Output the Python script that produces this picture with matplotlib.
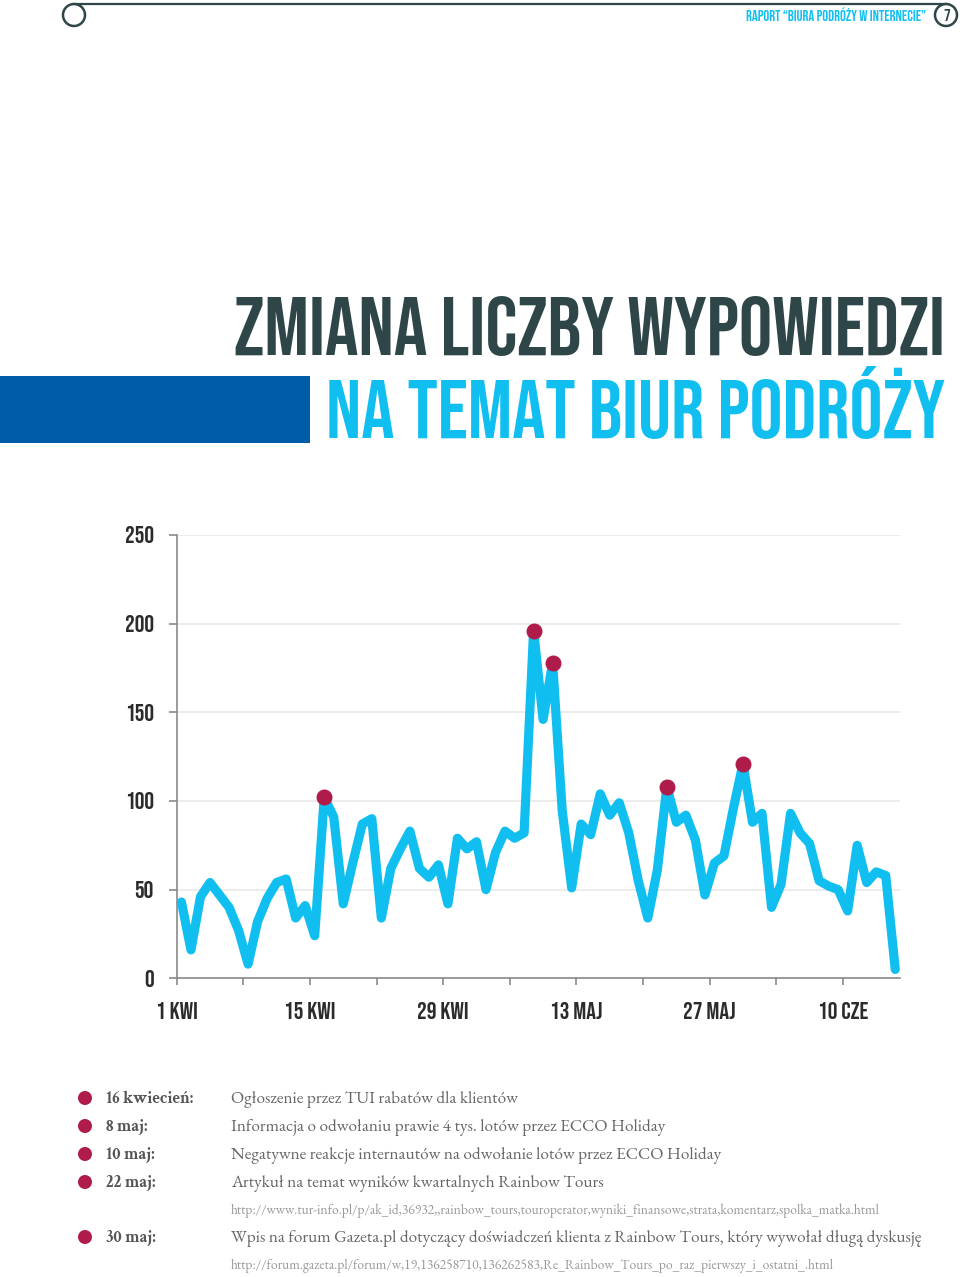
import numpy as np
import matplotlib
matplotlib.use('Agg')
import matplotlib.pyplot as plt
from matplotlib.patches import Circle, Rectangle

# daily number of posts, 1 Apr - 15 Jun
values = [43, 16, 46, 54, 47, 40, 27, 8, 32, 45,
          54, 56, 34, 41, 24, 102, 91, 42, 65, 87,
          90, 34, 62, 73, 83, 62, 57, 64, 42, 79,
          73, 77, 50, 71, 83, 79, 82, 196, 146, 178,
          95, 51, 87, 81, 104, 92, 99, 82, 55, 34,
          61, 108, 88, 92, 78, 47, 65, 69, 96, 121,
          88, 93, 40, 53, 93, 82, 76, 55, 52, 50,
          38, 75, 54, 60, 58, 5]
event_days = [15, 37, 39, 51, 59]   # days after 1 Apr with events
tick_days = [0, 14, 28, 42, 56, 70]
tick_labels = ['1 KWI', '15 KWI', '29 KWI', '13 MAJ', '27 MAJ', '10 CZE']
y_ticks = [0, 50, 100, 150, 200, 250]

event_dates = ['16 kwiecień:', '8 maj:', '10 maj:', '22 maj:', '30 maj:']
event_texts = ['Ogłoszenie przez TUI rabatów dla klientów',
               'Informacja o odwołaniu prawie 4 tys. lotów przez ECCO Holiday',
               'Negatywne reakcje internautów na odwołanie lotów przez ECCO Holiday',
               'Artykuł na temat wyników kwartalnych Rainbow Tours',
               'Wpis na forum Gazeta.pl dotyczący doświadczeń klienta z Rainbow Tours, który wywołał długą dyskusję']
event_urls = ['', '', '',
              'http://www.tur-info.pl/p/ak_id,36932,,rainbow_tours,touroperator,wyniki_finansowe,strata,komentarz,spolka_matka.html',
              'http://forum.gazeta.pl/forum/w,19,136258710,136262583,Re_Rainbow_Tours_po_raz_pierwszy_i_ostatni_.html']

cyan = '#10bff0'
dark = '#2f4649'
red = '#b01c4a'
cond = ['Bebas Neue', 'DejaVu Sans']
serif = ['EB Garamond', 'Liberation Serif']
serif_bold = ['Crimson Text', 'Liberation Serif']

W, H = 960, 1277
fig = plt.figure(figsize=(W / 100, H / 100), dpi=100)

# page decorations in pixel coordinates
deco = fig.add_axes([0, 0, 1, 1])
deco.set_xlim(0, W)
deco.set_ylim(H, 0)
deco.axis('off')
deco.plot([74, 946], [4, 4], color=dark, lw=1.6)
deco.add_patch(Circle((74, 15), 11, fc='white', ec=dark, lw=1.8))
deco.add_patch(Circle((946, 15), 11, fc='white', ec=dark, lw=1.8))
deco.text(946.5, 21, '7', ha='center', va='baseline', fontsize=12,
          color=dark, family=cond)
deco.text(926, 21, 'RAPORT “BIURA PODRÓŻY W INTERNECIE”', ha='right', va='baseline',
          fontsize=10.5, color=cyan, family=cond)

deco.text(945, 355, 'ZMIANA LICZBY WYPOWIEDZI', ha='right', va='baseline',
          fontsize=60, color=dark, family=cond)
deco.add_patch(Rectangle((0, 376), 310, 67, fc='#005ca8', ec='none'))
deco.text(945, 438, 'NA TEMAT BIUR PODRÓŻY', ha='right', va='baseline',
          fontsize=59.5, color=cyan, family=cond)

# legend of events
rows_y = [1098, 1126, 1154, 1182, 1237]
for d, date, txt, url, y in zip(event_days, event_dates, event_texts, event_urls, rows_y):
    deco.add_patch(Circle((85, y), 7, fc=red, ec='none'))
    deco.text(106, y + 5, date, ha='left', va='baseline', fontsize=12,
              fontweight='bold', color='#555555', family=serif_bold)
    deco.text(231, y + 5, txt, ha='left', va='baseline', fontsize=12.4,
              color='#666666', family=serif)
    if url:
        deco.text(231, y + 32, url, ha='left', va='baseline', fontsize=9.75,
                  color='#999999', family=serif)

# the chart
ax = fig.add_axes([176.7 / W, 1 - 978.3 / H, (900 - 176.7) / W, (978.3 - 535) / H])
x = np.arange(len(values)) + 0.5
ax.plot(x, values, color=cyan, lw=6.6, solid_joinstyle='round', solid_capstyle='round', zorder=3)
ev_x = [x[d] for d in event_days]
ev_y = [values[d] for d in event_days]
ax.plot(ev_x, ev_y, 'o', color=red, ms=10.5, zorder=4)

ax.set_xlim(0, 76)
ax.set_ylim(0, 250)
ax.set_yticks(y_ticks)
ax.set_yticklabels([str(v) for v in y_ticks])
ax.set_xticks(tick_days)
ax.set_xticklabels(tick_labels)
ax.set_xticks(np.arange(7, 71, 14), minor=True)
ax.grid(axis='y', color='#e9e9e9', lw=1.2, zorder=0)
ax.set_axisbelow(True)
for s in ['top', 'right']:
    ax.spines[s].set_visible(False)
for s in ['left', 'bottom']:
    ax.spines[s].set_color('#8a8a8a')
    ax.spines[s].set_linewidth(1.2)
ax.tick_params(axis='y', length=6, width=1.2, color='#8a8a8a', pad=10.5)
ax.tick_params(axis='x', which='both', length=5, width=1.2, color='#8a8a8a', pad=12)
for lab in ax.get_xticklabels() + ax.get_yticklabels():
    lab.set_family(cond)
    lab.set_fontsize(17.5)
    lab.set_color('#2b2b2b')

fig.savefig('out.png', dpi=100)
